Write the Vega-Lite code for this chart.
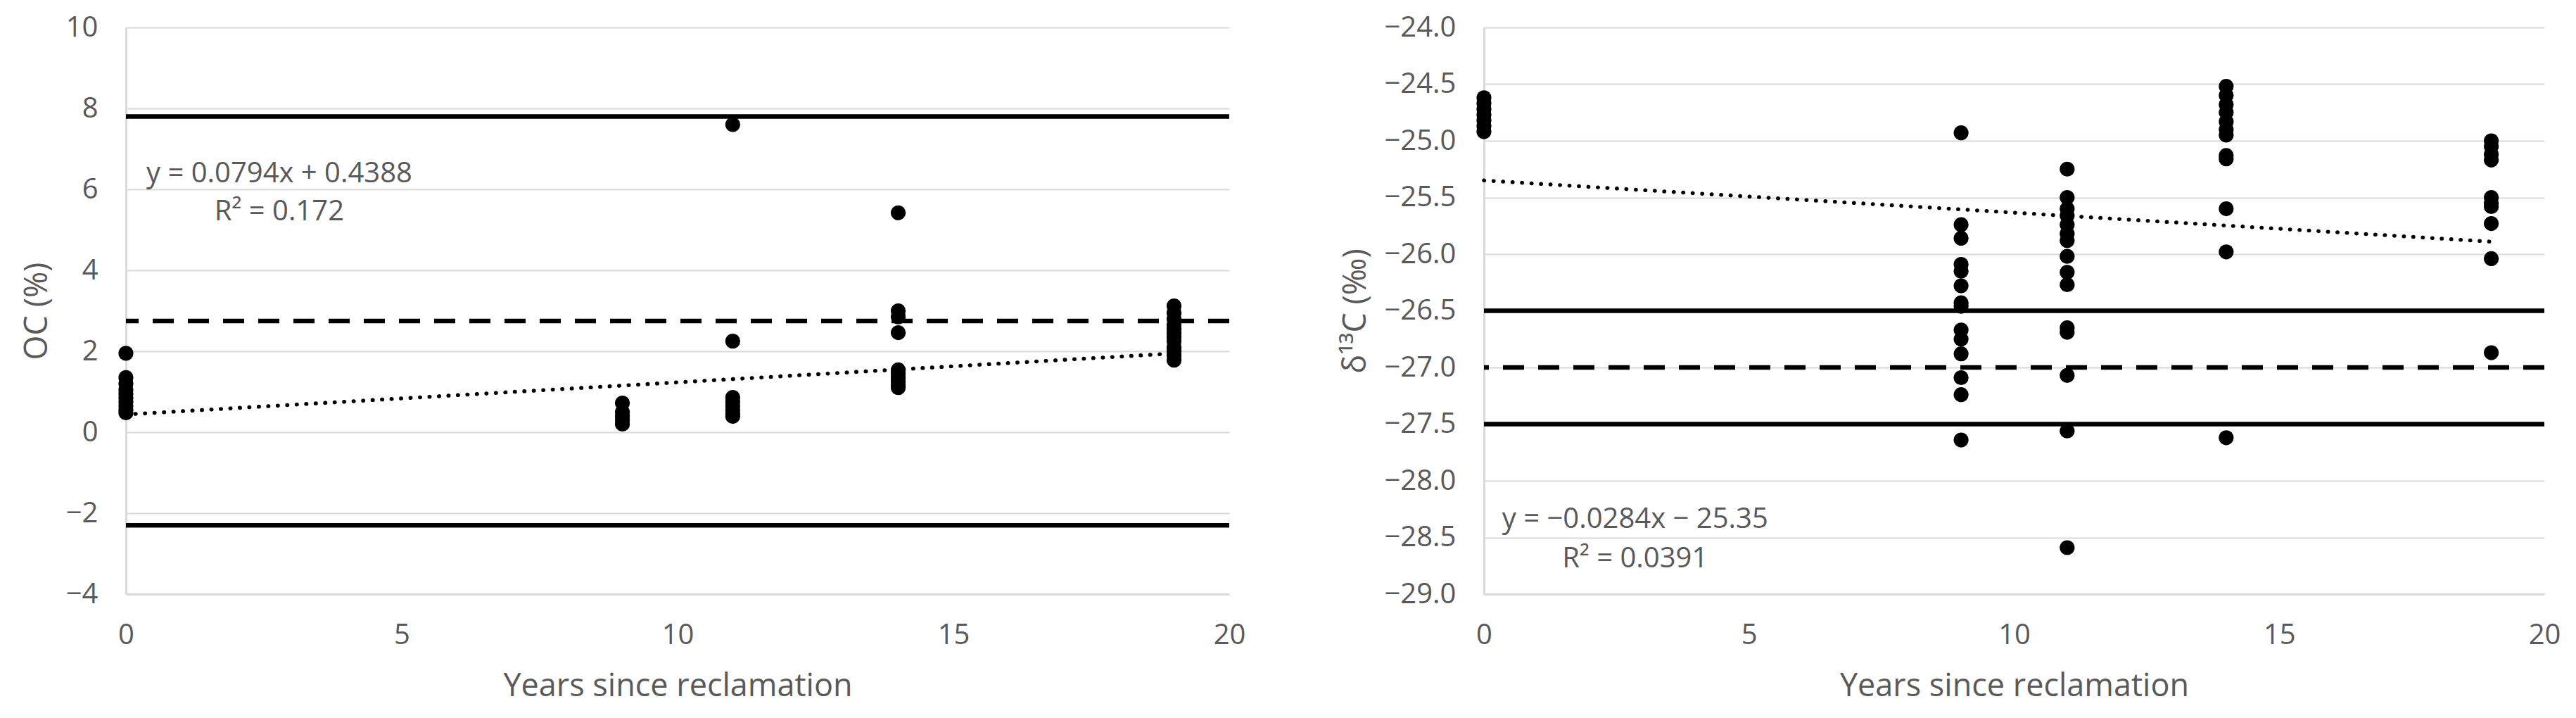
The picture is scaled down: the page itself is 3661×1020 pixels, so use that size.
{
  "$schema": "https://vega.github.io/schema/vega-lite/v6.json",
  "padding": {"left": 30, "top": 19, "right": 0, "bottom": 30},
  "background": "white",
  "config": {
    "font": "Open Sans",
    "view": {"stroke": null},
    "concat": {"spacing": 134},
    "axis": {
      "labelColor": "#595959", "titleColor": "#595959",
      "labelFontSize": 40, "titleFontSize": 45, "titleFontWeight": "normal",
      "labelFont": "Open Sans", "titleFont": "Open Sans",
      "gridColor": "#d9d9d9", "gridWidth": 2,
      "ticks": false, "domainColor": "#d9d9d9", "domainWidth": 3,
      "labelFlush": false, "labelOverlap": false, "labelBound": false
    }
  },
  "datasets": {
    "oc": [
      {"years": 0, "oc": 1.95}, {"years": 0, "oc": 1.35}, {"years": 0, "oc": 1.2}, {"years": 0, "oc": 1.05}, {"years": 0, "oc": 0.95}, {"years": 0, "oc": 0.85}, {"years": 0, "oc": 0.75}, {"years": 0, "oc": 0.65}, {"years": 0, "oc": 0.55}, {"years": 0, "oc": 0.48},
      {"years": 9, "oc": 0.72}, {"years": 9, "oc": 0.5}, {"years": 9, "oc": 0.4}, {"years": 9, "oc": 0.3}, {"years": 9, "oc": 0.2},
      {"years": 11, "oc": 7.6}, {"years": 11, "oc": 2.25}, {"years": 11, "oc": 0.86}, {"years": 11, "oc": 0.75}, {"years": 11, "oc": 0.65}, {"years": 11, "oc": 0.55}, {"years": 11, "oc": 0.45}, {"years": 11, "oc": 0.39},
      {"years": 14, "oc": 5.42}, {"years": 14, "oc": 3.0}, {"years": 14, "oc": 2.85}, {"years": 14, "oc": 2.46}, {"years": 14, "oc": 1.54}, {"years": 14, "oc": 1.45}, {"years": 14, "oc": 1.35}, {"years": 14, "oc": 1.25}, {"years": 14, "oc": 1.15}, {"years": 14, "oc": 1.1},
      {"years": 19, "oc": 3.12}, {"years": 19, "oc": 2.95}, {"years": 19, "oc": 2.8}, {"years": 19, "oc": 2.65}, {"years": 19, "oc": 2.55}, {"years": 19, "oc": 2.45}, {"years": 19, "oc": 2.35}, {"years": 19, "oc": 2.25}, {"years": 19, "oc": 2.1}, {"years": 19, "oc": 2.0}, {"years": 19, "oc": 1.9}, {"years": 19, "oc": 1.78}
    ],
    "d13c": [
      {"years": 0, "d13c": -24.62}, {"years": 0, "d13c": -24.67}, {"years": 0, "d13c": -24.72}, {"years": 0, "d13c": -24.77}, {"years": 0, "d13c": -24.82}, {"years": 0, "d13c": -24.87}, {"years": 0, "d13c": -24.92},
      {"years": 9, "d13c": -24.93}, {"years": 9, "d13c": -25.74}, {"years": 9, "d13c": -25.86}, {"years": 9, "d13c": -26.09}, {"years": 9, "d13c": -26.15}, {"years": 9, "d13c": -26.28}, {"years": 9, "d13c": -26.43}, {"years": 9, "d13c": -26.46}, {"years": 9, "d13c": -26.67}, {"years": 9, "d13c": -26.75}, {"years": 9, "d13c": -26.88}, {"years": 9, "d13c": -27.09}, {"years": 9, "d13c": -27.24}, {"years": 9, "d13c": -27.64},
      {"years": 11, "d13c": -25.25}, {"years": 11, "d13c": -25.5}, {"years": 11, "d13c": -25.6}, {"years": 11, "d13c": -25.66}, {"years": 11, "d13c": -25.74}, {"years": 11, "d13c": -25.82}, {"years": 11, "d13c": -25.88}, {"years": 11, "d13c": -26.02}, {"years": 11, "d13c": -26.16}, {"years": 11, "d13c": -26.27}, {"years": 11, "d13c": -26.65}, {"years": 11, "d13c": -26.69}, {"years": 11, "d13c": -27.07}, {"years": 11, "d13c": -27.56}, {"years": 11, "d13c": -28.59},
      {"years": 14, "d13c": -24.52}, {"years": 14, "d13c": -24.6}, {"years": 14, "d13c": -24.68}, {"years": 14, "d13c": -24.75}, {"years": 14, "d13c": -24.83}, {"years": 14, "d13c": -24.9}, {"years": 14, "d13c": -24.95}, {"years": 14, "d13c": -25.13}, {"years": 14, "d13c": -25.16}, {"years": 14, "d13c": -25.6}, {"years": 14, "d13c": -25.98}, {"years": 14, "d13c": -27.62},
      {"years": 19, "d13c": -25.0}, {"years": 19, "d13c": -25.05}, {"years": 19, "d13c": -25.12}, {"years": 19, "d13c": -25.17}, {"years": 19, "d13c": -25.5}, {"years": 19, "d13c": -25.55}, {"years": 19, "d13c": -25.58}, {"years": 19, "d13c": -25.73}, {"years": 19, "d13c": -26.04}, {"years": 19, "d13c": -26.87}
    ],
    "refOC": [
      {"line": "upper", "value": 7.8}, {"line": "mean", "value": 2.75}, {"line": "lower", "value": -2.3}
    ],
    "refC": [
      {"line": "upper", "value": -26.5}, {"line": "mean", "value": -27.0}, {"line": "lower", "value": -27.5}
    ],
    "trendOC": [{"years": 0, "value": 0.4388}, {"years": 19, "value": 1.947}],
    "trendC": [{"years": 0, "value": -25.35}, {"years": 19, "value": -25.89}],
    "eqOC": [
      {"years": 2.78, "value": 6.38, "label": "y = 0.0794x + 0.4388"},
      {"years": 2.78, "value": 5.45, "label": "R² = 0.172"}
    ],
    "eqC": [
      {"years": 2.85, "value": -28.34, "label": "y = −0.0284x − 25.35"},
      {"years": 2.85, "value": -28.69, "label": "R² = 0.0391"}
    ]
  },
  "hconcat": [
    {
      "width": 1568, "height": 805,
      "layer": [
        {
          "data": {"name": "refOC"},
          "mark": {"type": "rule", "color": "black", "strokeWidth": 6.5},
          "encoding": {
            "y": {"field": "value", "type": "quantitative", "scale": {"domain": [-4, 10], "nice": false, "zero": false},
                  "axis": {"values": [-4, -2, 0, 2, 4, 6, 8, 10], "format": "d", "title": "OC (%)", "grid": true, "labelPadding": 40, "titlePadding": 18}},
            "strokeDash": {"field": "line", "type": "nominal", "scale": {"domain": ["upper", "mean", "lower"], "range": [[1, 0], [30, 20], [1, 0]]}, "legend": null}
          }
        },
        {
          "data": {"name": "trendOC"},
          "mark": {"type": "line", "color": "black", "strokeWidth": 5.5, "strokeDash": [0.5, 13], "strokeCap": "round"},
          "encoding": {
            "x": {"field": "years", "type": "quantitative", "scale": {"domain": [0, 20], "nice": false},
                  "axis": {"values": [0, 5, 10, 15, 20], "format": "d", "title": "Years since reclamation", "grid": false, "labelPadding": 38, "titlePadding": 30}},
            "y": {"field": "value", "type": "quantitative"}
          }
        },
        {
          "data": {"name": "oc"},
          "mark": {"type": "circle", "size": 450, "color": "black", "opacity": 1},
          "encoding": {
            "x": {"field": "years", "type": "quantitative"},
            "y": {"field": "oc", "type": "quantitative"}
          }
        },
        {
          "data": {"name": "eqOC"},
          "mark": {"type": "text", "fontSize": 40, "color": "#595959", "align": "center", "baseline": "middle"},
          "encoding": {
            "x": {"field": "years", "type": "quantitative"},
            "y": {"field": "value", "type": "quantitative"},
            "text": {"field": "label"}
          }
        }
      ]
    },
    {
      "width": 1507, "height": 805,
      "layer": [
        {
          "data": {"name": "refC"},
          "mark": {"type": "rule", "color": "black", "strokeWidth": 6.5},
          "encoding": {
            "y": {"field": "value", "type": "quantitative", "scale": {"domain": [-29, -24], "nice": false, "zero": false},
                  "axis": {"values": [-29, -28.5, -28, -27.5, -27, -26.5, -26, -25.5, -25, -24.5, -24], "format": ".1f", "title": "δ¹³C (‰)", "grid": true, "labelPadding": 40, "titlePadding": 18}},
            "strokeDash": {"field": "line", "type": "nominal", "scale": {"domain": ["upper", "mean", "lower"], "range": [[1, 0], [30, 20], [1, 0]]}, "legend": null}
          }
        },
        {
          "data": {"name": "trendC"},
          "mark": {"type": "line", "color": "black", "strokeWidth": 5.5, "strokeDash": [0.5, 13], "strokeCap": "round"},
          "encoding": {
            "x": {"field": "years", "type": "quantitative", "scale": {"domain": [0, 20], "nice": false},
                  "axis": {"values": [0, 5, 10, 15, 20], "format": "d", "title": "Years since reclamation", "grid": false, "labelPadding": 38, "titlePadding": 30}},
            "y": {"field": "value", "type": "quantitative"}
          }
        },
        {
          "data": {"name": "d13c"},
          "mark": {"type": "circle", "size": 450, "color": "black", "opacity": 1},
          "encoding": {
            "x": {"field": "years", "type": "quantitative"},
            "y": {"field": "d13c", "type": "quantitative"}
          }
        },
        {
          "data": {"name": "eqC"},
          "mark": {"type": "text", "fontSize": 40, "color": "#595959", "align": "center", "baseline": "middle"},
          "encoding": {
            "x": {"field": "years", "type": "quantitative"},
            "y": {"field": "value", "type": "quantitative"},
            "text": {"field": "label"}
          }
        }
      ]
    }
  ]
}
